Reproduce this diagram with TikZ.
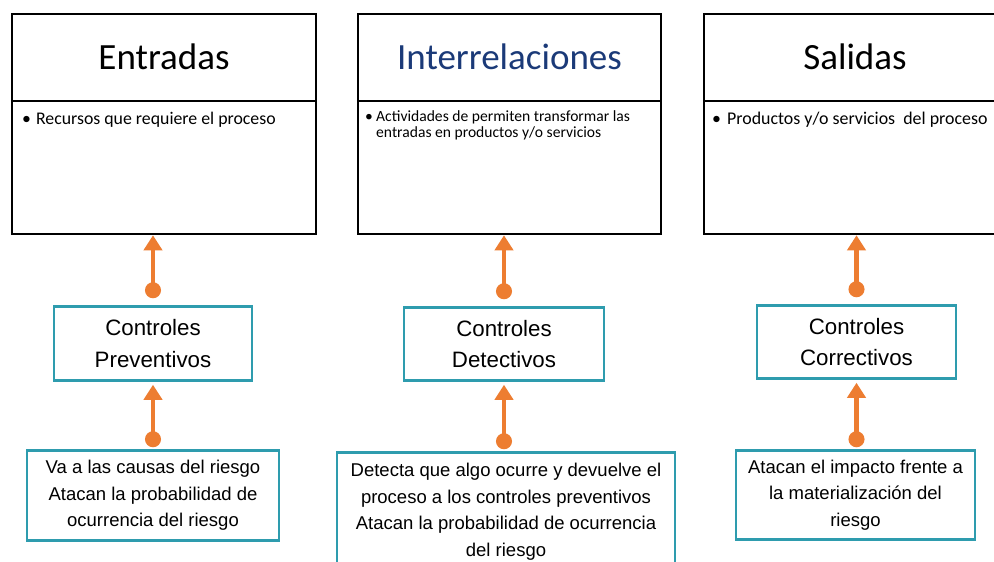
\documentclass[tikz,border=0pt]{standalone}
\usepackage{fontspec}
\setmainfont{Carlito}
\newfontfamily\arialf{Liberation Sans}
\usetikzlibrary{arrows.meta}
\definecolor{tealb}{HTML}{2E9CAE}
\definecolor{orng}{HTML}{ED7D31}
\definecolor{navyt}{HTML}{1B3A78}
\tikzset{
  bigbox/.style={draw=black, line width=2.5pt, minimum height=220pt, inner sep=0pt},
  divider/.style={draw=black, line width=2.5pt},
  titletext/.style={inner sep=0pt, font=\fontsize{37}{44}\selectfont},
  bullettext/.style={inner sep=0pt, anchor=base west},
  ctrlbox/.style={draw=tealb, line width=2.5pt, inner sep=0pt, align=center,
    font=\arialf\fontsize{22.3}{31.5}\selectfont},
  notebox/.style={draw=tealb, line width=2.5pt, inner sep=0pt, align=center,
    font=\arialf\fontsize{18.5}{26.5}\selectfont},
  conn/.style={draw=orng, line width=4.3pt,
    {Circle[length=16pt]}-{Triangle[length=15pt,width=18pt]}}
}
\begin{document}
\begin{tikzpicture}[x=1pt,y=-1pt]
\useasboundingbox (0,0) rectangle (994,562);
\clip (0,0) rectangle (994,562);
% top boxes
\node[bigbox, minimum width=304pt] (ent) at (164,124) {};
\node[bigbox, minimum width=303pt] (inr) at (509.5,124) {};
\node[bigbox, minimum width=303pt] (sal) at (855.5,124) {};
\draw[divider] (ent.west |- 0,101) -- (ent.east |- 0,101);
\draw[divider] (inr.west |- 0,101) -- (inr.east |- 0,101);
\draw[divider] (sal.west |- 0,101) -- (sal.east |- 0,101);
\node[titletext] (tent) at (164,57) {Entradas};
\node[titletext, text=navyt] (tinr) at (509.5,57) {Interrelaciones};
\node[titletext] (tsal) at (855,57) {Salidas};
% bullet texts
\node[bullettext, font=\fontsize{17.8}{20}\selectfont] (b1t) at (22,124) {\textbullet\hspace{5pt}Recursos que requiere el proceso};
\node[bullettext, font=\fontsize{15.6}{17}\selectfont] (b2b) at (365,121) {\textbullet};
\node[bullettext, font=\fontsize{15.6}{17}\selectfont] (b2t1) at (376,121) {Actividades de permiten transformar las};
\node[bullettext, font=\fontsize{15.6}{17}\selectfont] (b2t2) at (376,137.5) {entradas en productos y/o servicios};
\node[bullettext, font=\fontsize{17.9}{20}\selectfont] (b3t) at (712,124) {\textbullet\hspace{6pt}Productos y/o servicios \ del proceso};
% control boxes
\node[ctrlbox, minimum width=198pt, minimum height=74pt] (pv) at (153,343.5) {Controles\\Preventivos};
\node[ctrlbox, minimum width=200pt, minimum height=73pt] (dt) at (504,344) {Controles\\Detectivos};
\node[ctrlbox, minimum width=199pt, minimum height=73pt] (cc) at (856.5,342) {Controles\\Correctivos};
% note boxes
\node[notebox, minimum width=252pt, minimum height=90pt] (n1) at (153,495.5) {Va a las causas del riesgo\\Atacan la probabilidad de\\ocurrencia del riesgo};
\node[notebox, minimum width=338pt, minimum height=118pt] (n2) at (506,511.5) {Detecta que algo ocurre y devuelve el\\proceso a los controles preventivos\\Atacan la probabilidad de ocurrencia\\del riesgo};
\node[notebox, minimum width=239pt, minimum height=89pt] (n3) at (855.5,495) {Atacan el impacto frente a\\la materializaci\'on del\\riesgo};
% connectors
\draw[conn, shorten <=7pt] (pv.north) -- (pv.north |- ent.south);
\draw[conn, shorten <=7pt] (dt.north) -- (dt.north |- inr.south);
\draw[conn, shorten <=7pt] (cc.north) -- (cc.north |- sal.south);
\draw[conn, shorten <=2pt, shorten >=3pt] (n1.north) -- (pv.south);
\draw[conn, shorten <=2pt, shorten >=3pt] (dt.south |- n2.north) -- (dt.south);
\draw[conn, shorten <=2pt, shorten >=3pt] (cc.south |- n3.north) -- (cc.south);
\end{tikzpicture}
\end{document}
